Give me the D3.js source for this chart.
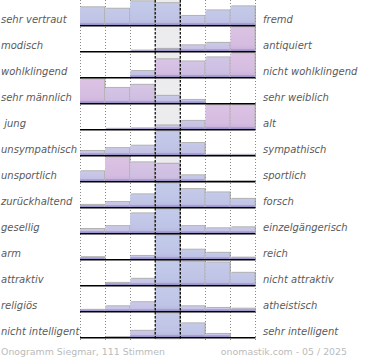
<!DOCTYPE html>
<html><head><meta charset="utf-8">
<script src="https://cdn.jsdelivr.net/npm/d3@7"></script>
<style>body{margin:0;background:#fff}svg{display:block}</style>
</head><body><svg id="c" width="370" height="360"></svg>
<script>
const leftLabels = ["sehr vertraut","modisch","wohlklingend","sehr männlich"," jung","unsympathisch","unsportlich","zurückhaltend","gesellig","arm","attraktiv","religiös","nicht intelligent"];
const rightLabels = ["fremd","antiquiert","nicht wohlklingend","sehr weiblich","alt","sympathisch","sportlich","forsch","einzelgängerisch","reich","nicht attraktiv","atheistisch","sehr intelligent"];
const columns = [0,1,2,3,4,5,6];
// share of votes per scale step, relative to the row's largest step (100)
const values = [
  [75,69,100,92,39,62,79],
  [0,0,3,10,25,35,100],
  [0,0,26,75,66,83,100],
  [100,64,77,31,14,0,0],
  [0,2,4,16,35,100,100],
  [18,30,40,100,51,2,2],
  [42,100,79,73,25,1,1],
  [10,22,54,100,76,62,35],
  [18,30,83,100,30,21,25],
  [9,0,14,100,40,27,7],
  [0,10,27,100,98,95,52],
  [6,21,38,100,21,14,11],
  [0,1,27,100,58,14,0]
];
// female share of the voters for each step (0 = male, 1 = female)
const femaleShare = [
  [0.1,0.1,0.05,0.1,0.2,0.1,0.1],
  [0,0,0.3,0.3,0.4,0.4,1],
  [0,0,0.2,0.9,0.7,0.6,1],
  [1,0.7,0.8,0.3,0.2,0,0],
  [0.5,0.5,0.5,0.5,0.4,1,1],
  [0.3,0.3,0.3,0.1,0.2,0.5,0.5],
  [0.3,1,0.8,0.7,0.2,0.5,0.5],
  [0.3,0.3,0.1,0.05,0.1,0.1,0.2],
  [0.4,0.3,0.1,0.05,0.2,0.2,0.3],
  [0.4,0,0.2,0.05,0.1,0.1,0.3],
  [0,0.3,0.3,0.05,0.1,0.1,0.1],
  [0.4,0.3,0.3,0.05,0.3,0.4,0.4],
  [0,0,0.4,0.1,0.1,0.3,0]
];
const footerLeft = "Onogramm Siegmar, 111 Stimmen";
const footerRight = "onomastik.com - 05 / 2025";

const svg = d3.select("#c");
const rows = d3.range(leftLabels.length);
const x = d3.scaleBand().domain(columns).range([80, 255.5]);
const yRow = d3.scaleBand().domain(rows).range([-0.7, 337.3]);
const h = d3.scaleLinear().domain([0, 100]).range([0, 24]);
const color = d3.interpolateRgb("#c2cbea", "#dcc3e4");

const defs = svg.append("defs");
const g1 = defs.append("linearGradient").attr("id","shade").attr("x1",0).attr("y1",0).attr("x2",0).attr("y2",1);
g1.append("stop").attr("offset","0%").attr("stop-color","#8070b8").attr("stop-opacity",0);
g1.append("stop").attr("offset","75%").attr("stop-color","#8070b8").attr("stop-opacity",0.08);
g1.append("stop").attr("offset","100%").attr("stop-color","#7060b0").attr("stop-opacity",0.22);

// middle column background
svg.append("rect").attr("x", x(3)).attr("y", 0).attr("width", x.bandwidth()).attr("height", 340).attr("fill", "#ececee");

// dotted grid lines
const edges = columns.map(c => x(c)).concat([x(6) + x.bandwidth()]);
svg.selectAll("line.grid").data(edges).enter().append("line")
  .attr("x1", d => d).attr("x2", d => d).attr("y1", 0).attr("y2", 340)
  .attr("stroke", (d,i) => (i === 3 || i === 4) ? "none" : "#888").attr("stroke-width", 1)
  .attr("stroke-dasharray", "1,2").attr("shape-rendering","crispEdges");

const cells = [];
rows.forEach(r => columns.forEach(c => cells.push({r, c, v: values[r][c], f: femaleShare[r][c]})));
const nz = cells.filter(d => d.v > 0);
const bw = x.bandwidth();
const barTop = d => yRow(d.r) + yRow.bandwidth() - h(d.v);

// shadows
svg.selectAll("rect.sh").data(nz).enter().append("rect")
  .attr("x", d => x(d.c) + 1).attr("y", d => barTop(d) - 1)
  .attr("width", bw - 0.5).attr("height", d => h(d.v) + 1)
  .attr("fill", "#9a9a9a").attr("opacity", 0.75);
// bars
svg.selectAll("rect.bar").data(nz).enter().append("rect")
  .attr("x", d => x(d.c)).attr("y", barTop)
  .attr("width", bw - 1).attr("height", d => h(d.v))
  .attr("fill", d => color(d.f));
svg.selectAll("rect.shade").data(nz).enter().append("rect")
  .attr("x", d => x(d.c)).attr("y", barTop)
  .attr("width", bw - 1).attr("height", d => h(d.v))
  .attr("fill", "url(#shade)");
svg.selectAll("rect.band").data(nz).enter().append("rect")
  .attr("x", d => x(d.c)).attr("y", d => yRow(d.r) + yRow.bandwidth() - Math.min(2, h(d.v)))
  .attr("width", bw - 1).attr("height", d => Math.min(2, h(d.v)))
  .attr("fill", "#9384c4").attr("opacity", 0.7);

// dashed middle lines
svg.selectAll("line.mid").data([edges[3], edges[4]]).enter().append("line")
  .attr("x1", d => d).attr("x2", d => d).attr("y1", 0).attr("y2", 340)
  .attr("stroke", "#000").attr("stroke-width", 1.2).attr("stroke-dasharray", "2.5,1.5");

// baselines
svg.selectAll("line.base").data(rows).enter().append("line")
  .attr("x1", 80).attr("x2", edges[7])
  .attr("y1", r => yRow(r) + yRow.bandwidth() + 0.5).attr("y2", r => yRow(r) + yRow.bandwidth() + 0.5)
  .attr("stroke", "#000").attr("stroke-width", 1.5);

// labels
const font = "'DejaVu Sans', sans-serif";
svg.selectAll("text.l").data(rows).enter().append("text")
  .attr("x", 1).attr("y", r => yRow(r) + yRow.bandwidth() - 2)
  .attr("font-family", font).attr("font-size", 10).attr("font-style", "italic")
  .attr("fill", "#5a5a5a").style("white-space", "pre").text(r => leftLabels[r]);
svg.selectAll("text.r").data(rows).enter().append("text")
  .attr("x", 263).attr("y", r => yRow(r) + yRow.bandwidth() - 2)
  .attr("font-family", font).attr("font-size", 10).attr("font-style", "italic")
  .attr("fill", "#5a5a5a").text(r => rightLabels[r]);

svg.append("text").attr("x", 1).attr("y", 355)
  .attr("font-family", font).attr("font-size", 9.4).attr("fill", "#bbb").text(footerLeft);
svg.append("text").attr("x", 347).attr("y", 355).attr("text-anchor", "end")
  .attr("font-family", font).attr("font-size", 9.4).attr("fill", "#bbb").text(footerRight);
</script></body></html>
